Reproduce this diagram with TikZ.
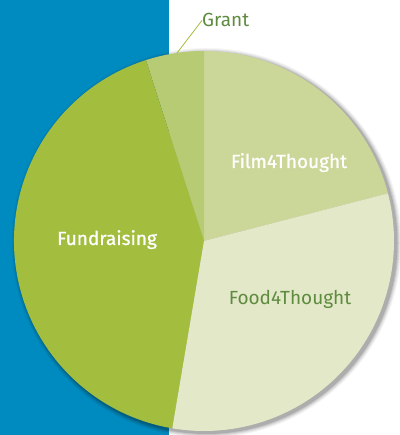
\documentclass[tikz,border=0pt]{standalone}
\usepackage{fontspec}
\setmainfont{Fira Sans}
\newfontfamily\medfont[FakeBold=0.9]{Fira Sans}
\usetikzlibrary{calc}
\definecolor{bluebg}{HTML}{008BC0}
\definecolor{filmc}{HTML}{CBD798}
\definecolor{foodc}{HTML}{E3E8C8}
\definecolor{fundc}{HTML}{A3BD3E}
\definecolor{grantc}{HTML}{B7CB74}
\definecolor{txtgreen}{HTML}{5E8B3F}
\definecolor{leadc}{HTML}{A3BD3E}
\begin{document}
\begin{tikzpicture}[x=1pt,y=1pt,
  lbl/.style={inner sep=0pt,font=\fontsize{19}{22}\selectfont},
  whitelbl/.style={inner sep=0pt,font=\medfont\fontsize{19}{22}\selectfont,text=white},
  greenlbl/.style={lbl,text=txtgreen},
  leader/.style={draw=leadc,line width=0.8pt}]
\useasboundingbox (0,0) rectangle (399,435);
\fill[bluebg] (0,0) rectangle (169,435);
\coordinate (c) at (204,194);
% soft shadow
\foreach \r/\o in {195/0.04,194/0.05,193/0.07,192/0.09,191/0.12}{
  \fill[black,opacity=\o] ($(c)+(2.5,-2)$) circle (\r);
}
% slices
\fill[filmc] (c) -- ++(14.5:190) arc (14.5:90:190) -- cycle;
\fill[grantc] (c) -- ++(90:190) arc (90:107.8:190) -- cycle;
\fill[fundc] (c) -- ++(107.8:190) arc (107.8:260.4:190) -- cycle;
\fill[foodc] (c) -- ++(260.4:190) arc (260.4:374.5:190) -- cycle;
% labels
\node[whitelbl,anchor=base] (fund) at (107,190) {Fundraising};
\node[whitelbl,anchor=base] (film) at (289,267) {Film4Thought};
\node[greenlbl,anchor=base] (food) at (290,130) {Food4Thought};
\node[greenlbl,anchor=base west] (grant) at (202,408) {Grant};
\coordinate (gedge) at (177,382);
\draw[leader] (grant.west) -- (gedge);
\end{tikzpicture}
\end{document}
